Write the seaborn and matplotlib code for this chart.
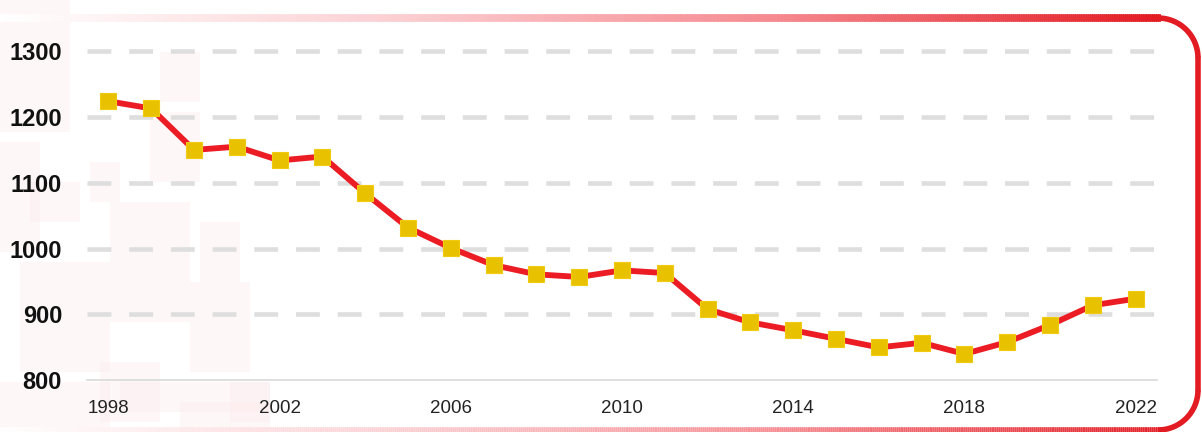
import numpy as np
import pandas as pd
import matplotlib.pyplot as plt
import seaborn as sns
from matplotlib.patches import Rectangle, Arc
from matplotlib.collections import LineCollection
from matplotlib.colors import LinearSegmentedColormap
from matplotlib.transforms import IdentityTransform

# số liệu
years = list(range(1998, 2023))
values = [1224, 1213, 1150, 1155, 1134, 1140, 1084, 1032, 1001, 975,
          961, 957, 967, 963, 908, 888, 876, 863, 850, 857,
          840, 858, 884, 914, 924]
x_ticks = [1998, 2002, 2006, 2010, 2014, 2018, 2022]
y_ticks = [800, 900, 1000, 1100, 1200, 1300]

df = pd.DataFrame({'year': years, 'value': values})

sns.set_style('white')
plt.rcParams['font.family'] = ['Liberation Sans Narrow', 'Liberation Sans', 'DejaVu Sans']

W, H = 1202, 432
fig = plt.figure(figsize=(W / 100, H / 100), dpi=100)
ident = IdentityTransform()

# nền mờ màu hồng bên trái (trang trí), vẽ dưới trục
blocks = [(0, 300, 70, 132), (0, 180, 40, 110), (20, 60, 90, 110), (100, 10, 60, 60),
          (110, 110, 80, 120), (150, 250, 50, 70), (120, 20, 150, 30), (0, 0, 110, 50),
          (190, 60, 60, 90), (200, 150, 40, 60), (230, 10, 40, 40), (160, 330, 40, 50),
          (90, 230, 30, 40), (30, 210, 50, 40), (180, 0, 90, 30)]
for bx, by, bw, bh in blocks:
    fig.add_artist(Rectangle((bx, by), bw, bh, transform=ident,
                             facecolor='#fdeced', alpha=0.4, edgecolor='none', zorder=-5))

ax = fig.add_axes([87 / W, 51.7 / H, (1157 - 87) / W, 362 / H])
ax.set_facecolor('none')
ax.set_zorder(1)

sns.lineplot(data=df, x='year', y='value', ax=ax, color='#ec1c24', linewidth=4.2,
             marker='s', markersize=11, markerfacecolor='#e8c100',
             markeredgecolor='#f0cb10', markeredgewidth=0.8, zorder=3)

ax.set_xlim(1997.5, 2022.5)
ax.set_ylim(800, 1350)
ax.set_xticks(x_ticks)
ax.set_yticks(y_ticks)
ax.set_xlabel('')
ax.set_ylabel('')

for yv in y_ticks[1:]:
    ax.axhline(yv, color='#dedede', linewidth=3.3, linestyle=(0, (5.2, 3.9)), zorder=1)

for s in ['top', 'right', 'left']:
    ax.spines[s].set_visible(False)
ax.spines['bottom'].set_color('#d9d9d9')
ax.spines['bottom'].set_linewidth(1.2)

ax.tick_params(axis='y', length=0, pad=18, labelsize=17)
ax.tick_params(axis='x', length=0, pad=14, labelsize=13.5)
for lb in ax.get_yticklabels():
    lb.set_fontweight('bold')
    lb.set_color('#111111')
for lb in ax.get_xticklabels():
    lb.set_color('#222222')

# khung viền đỏ bo góc bên phải
cmap = LinearSegmentedColormap.from_list('bd', ['#ffffff', '#fbd0d3', '#f58a90', '#e31b23'])
xs = np.linspace(0, 1160, 600)
top_y = H - 18
segs = [[(xs[i], top_y), (xs[i + 1] + 1, top_y)] for i in range(len(xs) - 1)]
lc = LineCollection(segs, colors=cmap(xs[:-1] / 1160), linewidths=5.5, transform=ident,
                    zorder=5, capstyle='butt')
fig.add_artist(lc)
bot_y = 2
segs_b = [[(xs[i], bot_y), (xs[i + 1] + 1, bot_y)] for i in range(len(xs) - 1)]
lc2 = LineCollection(segs_b, colors=cmap(xs[:-1] / 1160), linewidths=4, transform=ident,
                     zorder=5, alpha=0.8, capstyle='butt')
fig.add_artist(lc2)

r = 40
fig.add_artist(Arc((1158, top_y - r), 2 * r, 2 * r, theta1=0, theta2=90, transform=ident,
                   color='#e31b23', linewidth=4, zorder=5))
fig.add_artist(Arc((1158, bot_y + r), 2 * r, 2 * r, theta1=270, theta2=360, transform=ident,
                   color='#e31b23', linewidth=4, zorder=5))
fig.add_artist(plt.Line2D([1198, 1198], [bot_y + r, top_y - r], transform=ident,
                          color='#e31b23', linewidth=4, zorder=5))

fig.savefig('out.png', dpi=100)
